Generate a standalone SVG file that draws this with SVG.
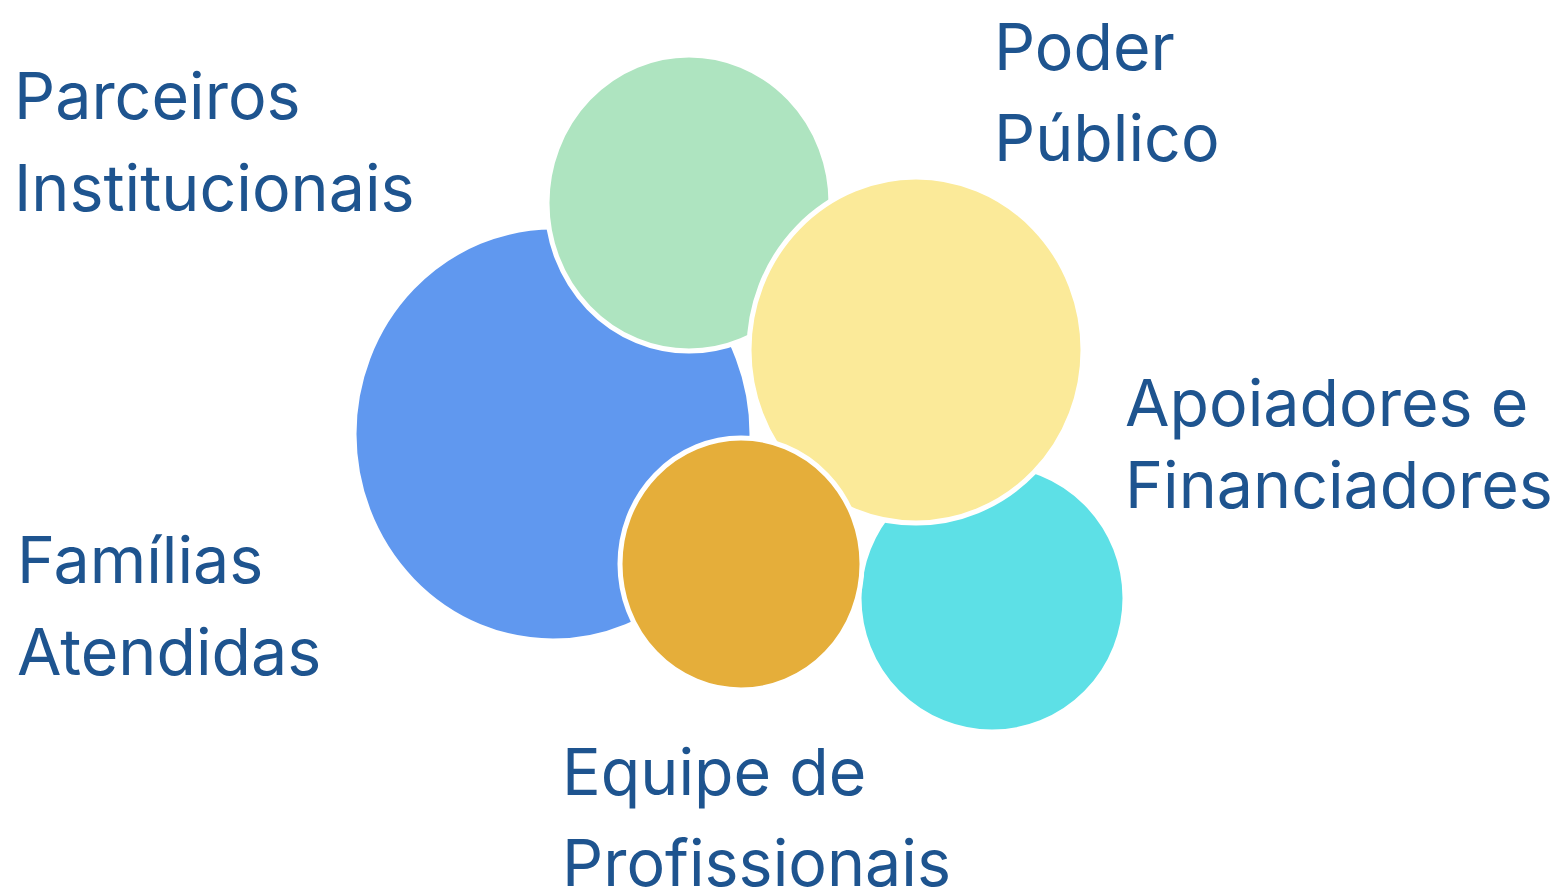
<svg xmlns="http://www.w3.org/2000/svg" width="1561" height="889" viewBox="0 0 1561 889">
<style>
.lbl{font-family:Inter,"Noto Sans","Liberation Sans",sans-serif;font-size:64.5px;fill:#1E548F}
.c{stroke:#fff;stroke-width:5}
</style>
<rect width="1561" height="889" fill="#fff"/>
<g id="familias"><ellipse class="c" cx="553" cy="434" rx="199" ry="207" fill="#6098EF"/></g>
<g id="parceiros"><ellipse class="c" cx="689" cy="203" rx="142" ry="148" fill="#AEE4C0"/></g>
<g id="apoiadores"><ellipse class="c" cx="992" cy="598" rx="133" ry="134" fill="#5DE0E6"/></g>
<g id="poder"><ellipse class="c" cx="916" cy="350" rx="167" ry="173" fill="#FBEA99"/></g>
<g id="equipe"><ellipse class="c" cx="741" cy="564" rx="121" ry="126" fill="#E5AE3A"/></g>
<g id="labels">
<text class="lbl" x="14" y="119">Parceiros</text>
<text class="lbl" x="14" y="211">Institucionais</text>
<text class="lbl" x="994" y="70">Poder</text>
<text class="lbl" x="994" y="161">Público</text>
<text class="lbl" x="1125" y="426">Apoiadores e</text>
<text class="lbl" x="1125" y="508">Financiadores</text>
<text class="lbl" x="17" y="583">Famílias</text>
<text class="lbl" x="17" y="675">Atendidas</text>
<text class="lbl" x="562" y="795">Equipe de</text>
<text class="lbl" x="562" y="886">Profissionais</text>
</g>
</svg>
